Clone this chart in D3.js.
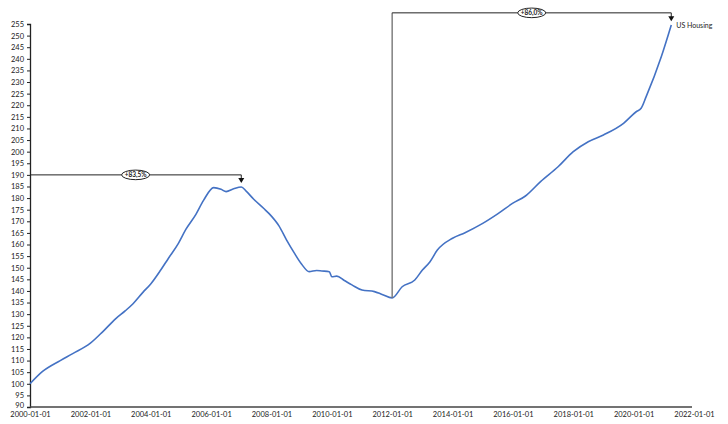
<!DOCTYPE html>
<html><head><meta charset="utf-8">
<script src="https://cdn.jsdelivr.net/npm/d3@7"></script>
<style>body{margin:0;background:#fff}svg{display:block}text{font-family:Lato,"Liberation Sans",sans-serif}</style>
</head><body><svg id="c" width="728" height="424"></svg>
<script>
const dates = ["2000-01","2000-06","2001-01","2001-06","2002-01","2002-06","2002-11","2003-03","2003-06","2003-10","2004-01","2004-05","2004-08","2004-12","2005-03","2005-07","2005-10","2006-02","2006-05","2006-07","2006-10","2007-01","2007-03","2007-06","2007-10","2007-12","2008-04","2008-07","2008-10","2009-01","2009-04","2009-07","2009-09","2009-12","2010-01","2010-03","2010-06","2010-09","2011-01","2011-06","2011-09","2012-01","2012-05","2012-10","2013-01","2013-04","2013-07","2014-01","2014-06","2015-01","2015-07","2016-01","2016-06","2016-12","2017-07","2018-01","2018-07","2019-01","2019-09","2020-02","2020-04","2020-06","2020-12","2021-04"];
const values = [100.0,105.3,110.0,113.0,117.5,122.5,128.0,131.5,134.5,139.5,143.0,149.0,154.0,160.5,166.5,173.0,179.0,184.5,183.8,182.8,184.0,184.8,183.0,179.5,175.5,173.4,168.0,162.0,156.5,151.5,148.3,148.8,148.6,148.3,146.1,146.4,144.5,142.6,140.4,139.7,138.5,137.0,141.8,144.7,149.0,152.5,157.6,162.7,165.1,169.1,173.2,177.8,180.9,187.1,193.5,200.0,204.3,207.2,212.2,217.2,218.7,223.7,240.9,254.6];
const yTicks = d3.range(90, 256, 5);
const xTickLabels = ["2000-01-01","2002-01-01","2004-01-01","2006-01-01","2008-01-01","2010-01-01","2012-01-01","2014-01-01","2016-01-01","2018-01-01","2020-01-01","2022-01-01"];
const seriesName = "US Housing";
const ann1 = {from:"2000-01", to:"2007-01", level:190, label:"+83,5%"};
const ann2 = {from:"2012-01", to:"2021-04", level:259.8, label:"+86,0%"};

const parse = d3.timeParse("%Y-%m");
const parseFull = d3.timeParse("%Y-%m-%d");
const data = dates.map((d,i)=>({date:parse(d), v:values[i]}));
const svg = d3.select("#c");
const x = d3.scaleTime().domain([parseFull("2000-01-01"), parseFull("2022-01-01")]).range([30, 694]);
const y = d3.scaleLinear().domain([90,255]).range([407, 24]);

// y axis
const ya = svg.append("g").attr("transform","translate(30,0)")
  .call(d3.axisLeft(y).tickValues(yTicks).tickSize(3).tickPadding(3));
ya.select(".domain").attr("stroke","#222").attr("stroke-width",1.3);
ya.selectAll(".tick line").attr("stroke","#222");
ya.selectAll("text").attr("font-size",7.5).attr("fill","#222");
ya.selectAll(".tick").filter(d=>d===90).select("text").attr("dy","0.1em");

// x axis
const xa = svg.append("g").attr("transform","translate(0,407)")
  .call(d3.axisBottom(x).tickValues(xTickLabels.map(parseFull)).tickSize(0).tickPadding(4).tickFormat(d3.timeFormat("%Y-%m-%d")));
xa.select(".domain").attr("stroke","#444").attr("stroke-width",1.3).attr("d","M30,0H692");
xa.selectAll("text").attr("font-size",7.5).attr("fill","#222").attr("dy","0.85em");

// line
svg.append("path").datum(data)
  .attr("fill","none").attr("stroke","#4472C4").attr("stroke-width",1.6)
  .attr("d", d3.line().x(d=>x(d.date)).y(d=>y(d.v)).curve(d3.curveMonotoneX));

svg.append("text").attr("x", x(parse(dates[dates.length-1]))+5).attr("y", y(values[values.length-1])+3)
  .attr("font-size",7).attr("fill","#222").text(seriesName);

function annot(a, startV, endV, vColor){
  const x0 = x(parse(a.from)), x1 = x(parse(a.to)), ly = y(a.level);
  const g = svg.append("g");
  if (startV !== null) g.append("line").attr("x1",x0).attr("x2",x0).attr("y1",y(startV)).attr("y2",ly).attr("stroke",vColor).attr("stroke-width",1.4);
  g.append("line").attr("x1",x0).attr("x2",x1).attr("y1",ly).attr("y2",ly).attr("stroke","#222").attr("stroke-width",1);
  const tipY = y(endV);
  g.append("line").attr("x1",x1).attr("x2",x1).attr("y1",ly).attr("y2",tipY-4).attr("stroke","#222").attr("stroke-width",1);
  g.append("path").attr("d",`M${x1-3},${tipY-5}L${x1+3},${tipY-5}L${x1},${tipY}Z`).attr("fill","#111");
  const cx = (x0+x1)/2;
  g.append("ellipse").attr("cx",cx).attr("cy",ly).attr("rx",14).attr("ry",4.8).attr("fill","#fff").attr("stroke","#222").attr("stroke-width",1);
  g.append("text").attr("x",cx).attr("y",ly+2.3).attr("text-anchor","middle").attr("font-size",6.5).attr("font-weight","bold").attr("fill","#222").text(a.label);
}
annot(ann1, null, 186.5, "#222");
annot(ann2, 137.0, 256.2, "#777");
</script></body></html>
